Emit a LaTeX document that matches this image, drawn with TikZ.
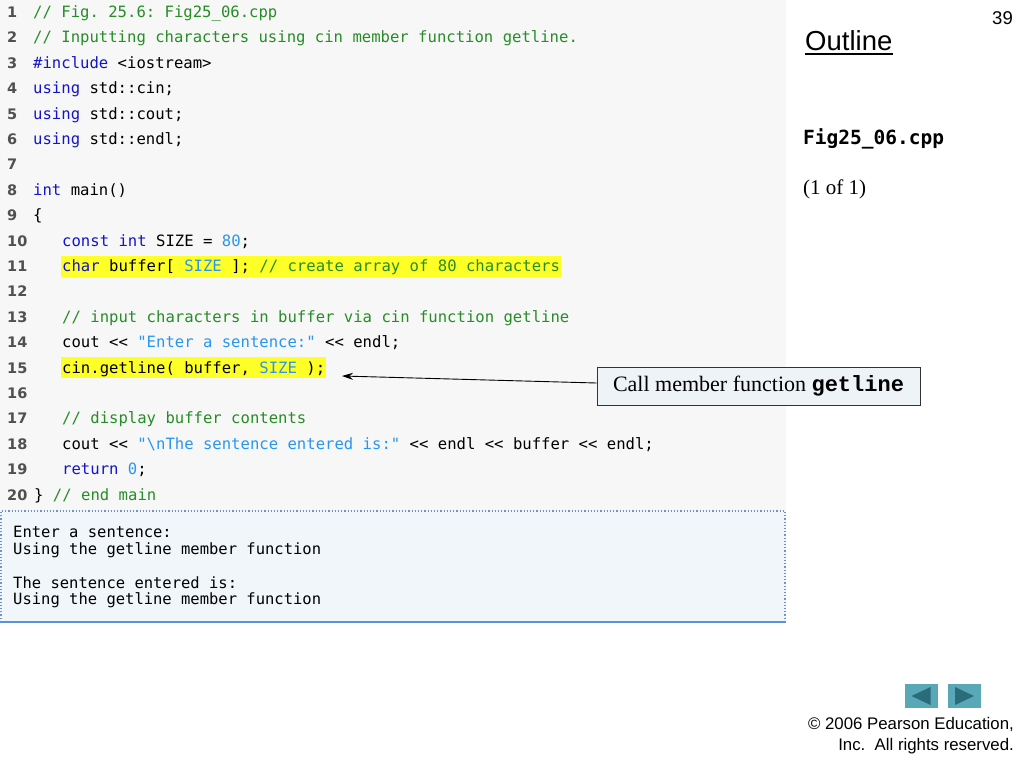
\documentclass[tikz,border=0pt]{standalone}
\usepackage{fontspec}
\setmainfont{Liberation Serif}
\setmonofont{DejaVu Sans Mono}
\newfontfamily\arialf{Liberation Sans}
\newfontfamily\numf{DejaVu Sans}
\newfontfamily\courf{Liberation Mono}
\usetikzlibrary{arrows.meta,calc,backgrounds}
\definecolor{panel}{HTML}{F7F7F7}
\definecolor{outfill}{HTML}{F0F6F9}
\definecolor{outborder}{HTML}{6F93C6}
\definecolor{outbottom}{HTML}{5B93DB}
\definecolor{cmtgreen}{RGB}{40,140,40}
\definecolor{kwblue}{RGB}{20,20,200}
\definecolor{strblue}{RGB}{40,150,240}
\definecolor{lngray}{RGB}{80,80,80}
\definecolor{hlyellow}{RGB}{255,255,40}
\definecolor{calloutfill}{HTML}{EEF3F7}
\definecolor{navfill}{RGB}{88,168,184}
\definecolor{navtri}{RGB}{42,108,122}
\newcommand\ccmt[1]{\textcolor{cmtgreen}{#1}}
\newcommand\ckw[1]{\textcolor{kwblue}{#1}}
\newcommand\cstr[1]{\textcolor{strblue}{#1}}
\begin{document}
\begin{tikzpicture}[x=1pt,y=-1pt,
  lnum/.style={anchor=base west, inner sep=0pt, font=\numf\bfseries\fontsize{14.5}{14.5}\selectfont, text=lngray},
  code/.style={anchor=base west, inner sep=0pt, font=\ttfamily\fontsize{15.6}{15.6}\selectfont},
  outtxt/.style={anchor=base west, inner sep=0pt, font=\ttfamily\fontsize{15.5}{15.5}\selectfont},
  callout/.style={draw=black!80, fill=calloutfill, line width=0.8pt, minimum width=323pt, minimum height=38pt, inner sep=0pt, font=\fontsize{22}{22}\selectfont},
  navbtn/.style={fill=navfill, minimum width=33pt, minimum height=24pt, inner sep=0pt},
  hl/.style={fill=hlyellow}
]
\useasboundingbox (0,0) rectangle (1024,768);

% line numbers
\foreach \i in {1,...,20}
  \node[lnum] (ln\i) at (7,{17.5+(\i-1)*25.4}) {\i};

% code
\node[code] (c1) at (33,17.5) {\ccmt{// Fig. 25.6: Fig25\_06.cpp}};
\node[code] (c2) at (33,42.9) {\ccmt{// Inputting characters using cin member function getline.}};
\node[code] (c3) at (33,68.3) {\ckw{\#include} <iostream>};
\node[code] (c4) at (33,93.7) {\ckw{using} std::cin;};
\node[code] (c5) at (33,119.1) {\ckw{using} std::cout;};
\node[code] (c6) at (33,144.5) {\ckw{using} std::endl;};
\node[code] (c8) at (33,195.3) {\ckw{int} main()};
\node[code] (c9) at (33,220.7) {\{};
\node[code] (c10) at (62,246.1) {\ckw{const} \ckw{int} SIZE = \cstr{80};};
\node[code] (c11) at (62,271.5) {\ckw{char} buffer[ \cstr{SIZE} ]; \ccmt{// create array of 80 characters}};
\node[code] (c13) at (62,322.3) {\ccmt{// input characters in buffer via cin function getline}};
\node[code] (c14) at (62,347.7) {cout << \cstr{"Enter a sentence:"} << endl;};
\node[code] (c15) at (62,373.1) {cin.getline( buffer, \cstr{SIZE} );};
\node[code] (c17) at (62,423.9) {\ccmt{// display buffer contents}};
\node[code] (c18) at (62,449.3) {cout << \cstr{"\textbackslash nThe sentence entered is:"} << endl << buffer << endl;};
\node[code] (c19) at (62,474.7) {\ckw{return} \cstr{0};};
\node[code] (c20) at (34,500.1) {\} \ccmt{// end main}};

\begin{scope}[on background layer]
  \fill[white] (0,0) rectangle (1024,768);
  \fill[panel] (0,0) rectangle (786,510);
  \fill[hl] ($(c11.base west)+(-1,-16)$) rectangle ($(c11.base east)+(1,5)$);
  \fill[hl] ($(c15.base west)+(-1,-16)$) rectangle ($(c15.base east)+(1,5)$);
\end{scope}

% output box
\fill[outfill] (0,510) rectangle (786,622);
\draw[outborder, dotted, line width=1.2pt] (1,622) -- (1,511) -- (785,511) -- (785,622);
\draw[outbottom, line width=2pt] (0,622) -- (786,622);
\node[outtxt] (o1) at (13,537) {Enter a sentence:};
\node[outtxt] (o2) at (13,554) {Using the getline member function};
\node[outtxt] (o3) at (13,588) {The sentence entered is:};
\node[outtxt] (o4) at (13,604.5) {Using the getline member function};

% callout
\node[callout] (call) at (758.5,386) {Call member function {\courf\bfseries getline}};
\coordinate (tip) at (342,376);
\draw[-{Stealth[length=11pt,width=7pt]}, line width=0.9pt] ($(call.west)+(0,-3)$) -- (tip);

% right side
\node[anchor=base east, inner sep=0pt, font=\arialf\fontsize{18.5}{18.5}\selectfont] (pg) at (1013,25) {39};
\node[anchor=base west, inner sep=0pt, font=\arialf\fontsize{27.5}{27.5}\selectfont] (outl) at (805,50) {Outline};
\draw[line width=1.2pt] ($(outl.base west)+(0,4)$) -- ($(outl.base east)+(0,4)$);
\node[anchor=base west, inner sep=0pt, font=\ttfamily\bfseries\fontsize{19.5}{19.5}\selectfont] (fig) at (803,144) {Fig25\_06.cpp};
\node[anchor=base west, inner sep=0pt, font=\fontsize{21}{21}\selectfont] (pgof) at (803,194) {(1 of 1)};

% navigation
\node[navbtn] (prev) at (921.5,696) {};
\node[navbtn] (next) at (964,696) {};
\fill[navtri] ($(prev.center)+(-10,0)$) -- ($(prev.center)+(9,-9)$) -- ($(prev.center)+(9,9)$) -- cycle;
\fill[navtri] ($(next.center)+(10,0)$) -- ($(next.center)+(-9,-9)$) -- ($(next.center)+(-9,9)$) -- cycle;

% copyright
\node[anchor=base east, inner sep=0pt, font=\arialf\fontsize{16.8}{16.8}\selectfont] (cr1) at (1014,729) {\textcopyright{} 2006 Pearson Education,};
\node[anchor=base east, inner sep=0pt, font=\arialf\fontsize{16.8}{16.8}\selectfont] (cr2) at (1014,750) {Inc.\ \ All rights reserved.};
\end{tikzpicture}
\end{document}
